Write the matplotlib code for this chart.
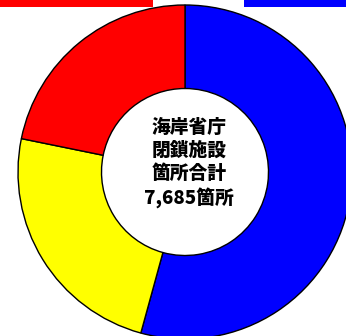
import matplotlib
matplotlib.use("Agg")
import matplotlib.pyplot as plt
from matplotlib.patches import Rectangle

# share of closed facilities, clockwise from 12 o'clock
values = [4170, 1840, 1675]
colors = ["#0000ff", "#ffff00", "#ff0000"]
center_text = "海岸省庁\n閉鎖施設\n箇所合計\n7,685箇所"

W, H = 346, 336
fig = plt.figure(figsize=(W / 100, H / 100), dpi=100)
fig.patch.set_facecolor("white")

# donut centre (185, 172) px from top-left, outer radius 168 px
cx, cy, r = 185, H - 172, 167
half = 170
ax = fig.add_axes([(cx - half) / W, (cy - half) / H, 2 * half / W, 2 * half / H])
ax.pie(values, colors=colors, startangle=90, counterclock=False, radius=1.0,
       wedgeprops=dict(width=0.5, edgecolor="black", linewidth=1.0))
lim = half / r
ax.set_xlim(-lim, lim)
ax.set_ylim(-lim, lim)
ax.set_aspect("equal")
ax.axis("off")

ax.text(4 / r, 9 / r, center_text, ha="center", va="center",
        fontsize=13.5, fontweight="heavy", linespacing=1.25,
        family=["Noto Sans CJK JP", "DejaVu Sans"])

# cropped legend strips at the top edge
fig.patches.append(Rectangle((0, 1 - 7 / H), 153 / W, 7 / H, transform=fig.transFigure,
                             facecolor="#ff0000", edgecolor="none"))
fig.patches.append(Rectangle((244 / W, 1 - 7 / H), 102 / W, 7 / H, transform=fig.transFigure,
                             facecolor="#0000ff", edgecolor="none"))

fig.savefig("out.png", dpi=100)
